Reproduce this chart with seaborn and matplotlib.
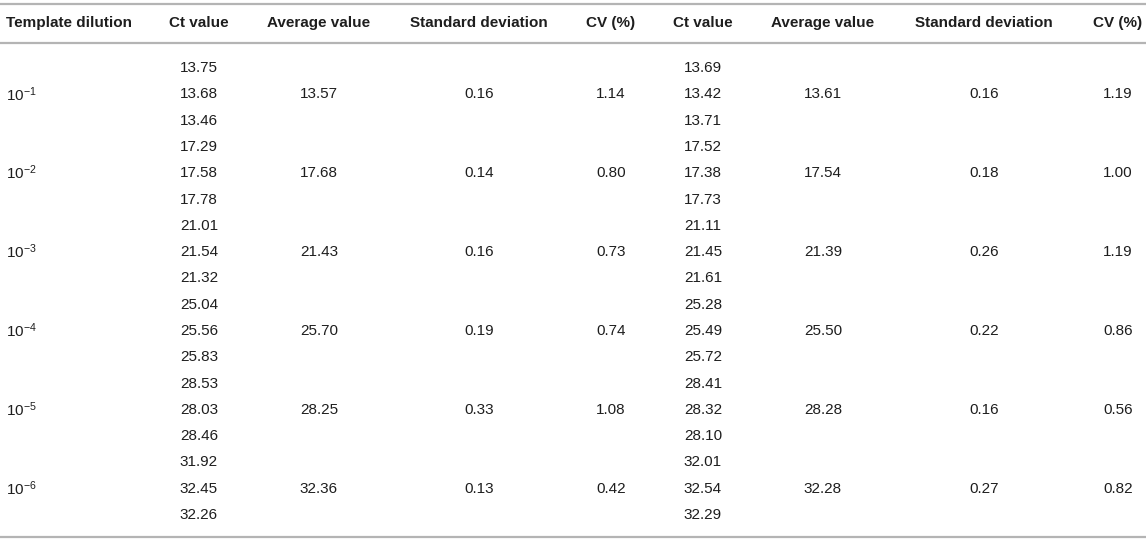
import numpy as np
import matplotlib
matplotlib.use('Agg')
import matplotlib.pyplot as plt
import seaborn as sns

headers = ['Template dilution', 'Ct value', 'Average value', 'Standard deviation', 'CV (%)',
           'Ct value', 'Average value', 'Standard deviation', 'CV (%)']
dilutions = ['-1', '-2', '-3', '-4', '-5', '-6']

ct_a = [13.75, 13.68, 13.46, 17.29, 17.58, 17.78, 21.01, 21.54, 21.32,
        25.04, 25.56, 25.83, 28.53, 28.03, 28.46, 31.92, 32.45, 32.26]
avg_a = [13.57, 17.68, 21.43, 25.70, 28.25, 32.36]
sd_a = [0.16, 0.14, 0.16, 0.19, 0.33, 0.13]
cv_a = [1.14, 0.80, 0.73, 0.74, 1.08, 0.42]

ct_b = [13.69, 13.42, 13.71, 17.52, 17.38, 17.73, 21.11, 21.45, 21.61,
        25.28, 25.49, 25.72, 28.41, 28.32, 28.10, 32.01, 32.54, 32.29]
avg_b = [13.61, 17.54, 21.39, 25.50, 28.28, 32.28]
sd_b = [0.16, 0.18, 0.26, 0.22, 0.16, 0.27]
cv_b = [1.19, 1.00, 1.19, 0.86, 0.56, 0.82]

sns.set_theme(style='white')
plt.rcParams['font.family'] = ['Liberation Sans', 'DejaVu Sans']
plt.rcParams['mathtext.default'] = 'regular'

fig = plt.figure(figsize=(11.46, 5.42), dpi=100)
ax = fig.add_axes([0, 0, 1, 1])
ax.set_xlim(0, 1146)
ax.set_ylim(542, 0)
ax.axis('off')

txt = '#1e1e1e'
line_c = '#b4b4b4'
fs = 11

# column centres (first column is left aligned)
col_x = [6, 199, 319, 479, 611, 703, 823, 984, 1118]

ax.axhline(4, color=line_c, lw=1.6)
ax.axhline(43, color=line_c, lw=1.6)
ax.axhline(537, color=line_c, lw=1.6)

for i, h in enumerate(headers):
    ha = 'left' if i == 0 else 'center'
    ax.text(col_x[i], 23, h, ha=ha, va='center', fontsize=fs, fontweight='bold', color=txt)

row0, step = 68, 26.3
for i in range(len(ct_a)):
    y = row0 + i * step
    ax.text(col_x[1], y, f'{ct_a[i]:.2f}', ha='center', va='center', fontsize=fs, color=txt)
    ax.text(col_x[5], y, f'{ct_b[i]:.2f}', ha='center', va='center', fontsize=fs, color=txt)

for g in range(len(dilutions)):
    y = row0 + (3 * g + 1) * step
    ax.text(col_x[0], y, '10$^{' + dilutions[g] + '}$', ha='left', va='center', fontsize=fs, color=txt)
    vals = [avg_a[g], sd_a[g], cv_a[g], None, avg_b[g], sd_b[g], cv_b[g]]
    for j, v in enumerate(vals):
        if v is None:
            continue
        ax.text(col_x[j + 2], y, f'{v:.2f}', ha='center', va='center', fontsize=fs, color=txt)

fig.savefig('out.png', dpi=100)
